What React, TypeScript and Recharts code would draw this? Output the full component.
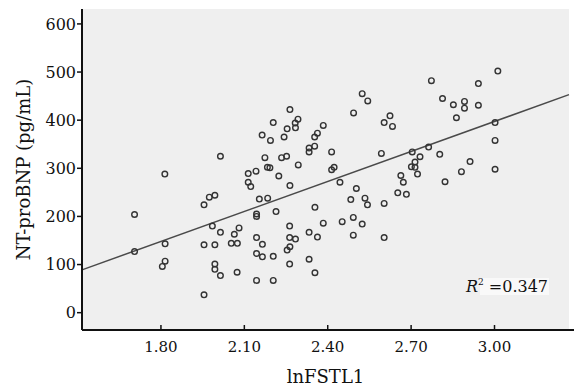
import React from 'react';
import { ScatterChart, Scatter, XAxis, YAxis, CartesianGrid, ReferenceLine, Label } from 'recharts';

const lnFSTL1 = [
  1.705, 1.705, 1.814, 1.815, 1.815, 1.805, 1.955, 1.974, 1.994, 2.014,
  1.985, 2.014, 1.955, 1.994, 1.994, 1.994, 2.014, 1.955, 2.064, 2.081,
  2.053, 2.075, 2.074, 2.114, 2.142, 2.114, 2.123, 2.154, 2.184, 2.144,
  2.144, 2.214, 2.144, 2.165, 2.144, 2.165, 2.204, 2.144, 2.204, 2.164,
  2.194, 2.204, 2.264, 2.243, 2.254, 2.283, 2.293, 2.284, 2.174, 2.234,
  2.252, 2.183, 2.192, 2.224, 2.294, 2.264, 2.263, 2.263, 2.284, 2.264,
  2.254, 2.263, 2.384, 2.363, 2.353, 2.353, 2.333, 2.333, 2.414, 2.414,
  2.423, 2.444, 2.503, 2.483, 2.534, 2.543, 2.603, 2.652, 2.683, 2.354,
  2.384, 2.333, 2.363, 2.452, 2.492, 2.524, 2.492, 2.603, 2.333, 2.354,
  2.524, 2.544, 2.493, 2.624, 2.603, 2.633, 2.593, 2.704, 2.763, 2.732,
  2.714, 2.701, 2.714, 2.723, 2.663, 2.672, 2.773, 2.942, 3.012, 2.813,
  2.852, 2.892, 2.892, 2.942, 2.863, 3.002, 3.002, 2.803, 2.912, 2.881,
  2.822, 3.002,
];

const ntProBNP = [
  204, 127, 288, 143, 107, 96, 224, 240, 244, 325,
  180, 167, 141, 141, 101, 90, 77, 37, 163, 176,
  144, 144, 84, 289, 294, 271, 262, 236, 238, 205,
  200, 210, 156, 142, 123, 116, 117, 67, 67, 369,
  358, 395, 422, 365, 382, 394, 402, 384, 322, 322,
  325, 302, 301, 284, 307, 264, 180, 156, 153, 137,
  130, 101, 389, 373, 365, 346, 342, 334, 334, 297,
  302, 271, 258, 235, 238, 224, 227, 249, 246, 219,
  186, 167, 157, 189, 198, 184, 161, 156, 111, 83,
  455, 440, 415, 409, 395, 387, 331, 334, 344, 324,
  313, 303, 302, 288, 285, 271, 482, 476, 502, 445,
  432, 439, 425, 431, 405, 395, 358, 329, 314, 293,
  272, 298,
];

const xTicks = [1.8, 2.1, 2.4, 2.7, 3.0];
const yTicks = [0, 100, 200, 300, 400, 500, 600];
const xDomain = [1.516, 3.268];
const yDomain = [-36, 631];
const trendX = [1.516, 3.268];
const trendY = [89, 453];

const points = lnFSTL1.map((x, i) => ({ x, y: ntProBNP[i] }));

const FONT = '"DejaVu Serif", serif';
const INK = '#111';

const Ring = (props: any) => {
  const { cx, cy } = props;
  if (cx == null || cy == null) return <g />;
  return <circle cx={cx} cy={cy} r={2.8} fill="none" stroke="#333" strokeWidth={1.4} />;
};

const XTick = (props: any) => {
  const { x, y, payload } = props;
  return (
    <g>
      <line x1={x} x2={x} y1={y} y2={y - 5} stroke={INK} strokeWidth={1.5} />
      <text x={x} y={y + 22} textAnchor="middle" fontFamily={FONT} fontSize={15} fill={INK}>
        {Number(payload.value).toFixed(2)}
      </text>
    </g>
  );
};

export default function App() {
  return (
    <div style={{ position: 'absolute', left: 0, top: 0, width: 582, height: 387, background: '#fff' }}>
      <ScatterChart width={582} height={387} margin={{ top: 9, right: 13, bottom: 0, left: 0 }}>
        <CartesianGrid horizontal={false} vertical={false} fill="#efefef" />
        <XAxis
          type="number"
          dataKey="x"
          domain={xDomain}
          ticks={xTicks}
          allowDataOverflow
          height={57}
          tickSize={0}
          tickMargin={0}
          tick={<XTick />}
          axisLine={{ stroke: INK, strokeWidth: 2 }}
        >
          <Label value="lnFSTL1" position="insideBottom" offset={4} style={{ fontFamily: FONT, fontSize: 18, fill: INK }} />
        </XAxis>
        <YAxis
          type="number"
          dataKey="y"
          domain={yDomain}
          ticks={yTicks}
          allowDataOverflow
          width={82}
          tickSize={5}
          tickMargin={1}
          tick={{ fontFamily: FONT, fontSize: 16, fill: INK }}
          tickLine={{ stroke: INK, strokeWidth: 1.5 }}
          axisLine={{ stroke: INK, strokeWidth: 2 }}
        >
          <Label
            value="NT-proBNP (pg/mL)"
            angle={-90}
            position="insideLeft"
            offset={24}
            style={{ textAnchor: 'middle', fontFamily: FONT, fontSize: 18, fill: INK }}
          />
        </YAxis>
        <ReferenceLine
          segment={[{ x: trendX[0], y: trendY[0] }, { x: trendX[1], y: trendY[1] }]}
          stroke="#4a4a4a"
          strokeWidth={1.5}
        />
        <Scatter data={points} shape={<Ring />} isAnimationActive={false} />
      </ScatterChart>
      <svg width={582} height={387} style={{ position: 'absolute', left: 0, top: 0, pointerEvents: 'none' }}>
        <line x1={568} x2={574} y1={330} y2={330} stroke={INK} strokeWidth={2} />
        <rect x={480} y={278} width={69} height={17} fill="#f9f9f9" />
        <text x={548} y={292} textAnchor="end" fontFamily={FONT} fontSize={16} fill={INK}>
          <tspan fontStyle="italic">R</tspan>
          <tspan fontSize={9} dy={-7}>2</tspan>
          <tspan dy={7}> =0.347</tspan>
        </text>
      </svg>
    </div>
  );
}
